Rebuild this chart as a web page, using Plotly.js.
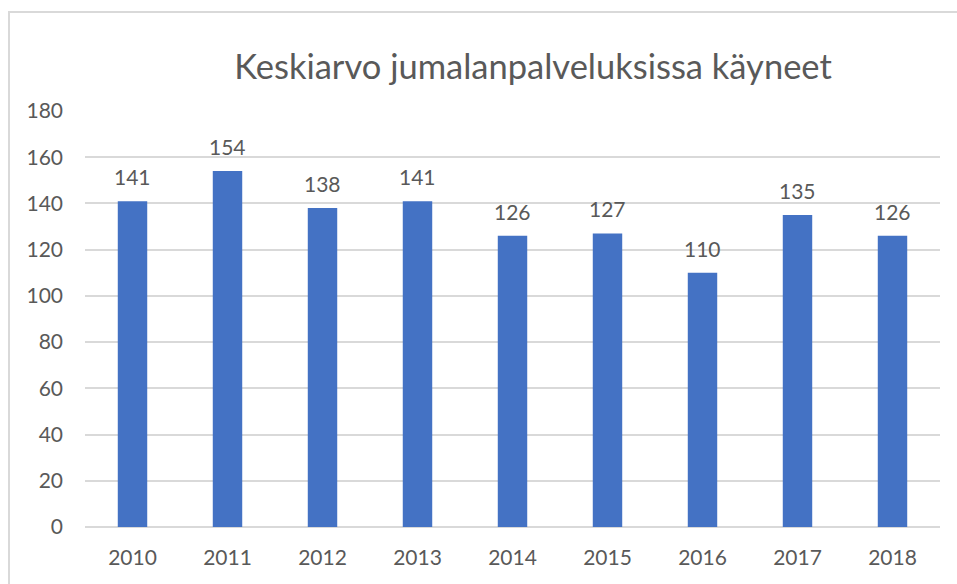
<!DOCTYPE html>
<html>
<head>
<meta charset="utf-8">
<script src="https://cdn.plot.ly/plotly-3.0.1.min.js"></script>
<style>html,body{margin:0;padding:0;background:#fff;}#chart{width:957px;height:584px;}</style>
</head>
<body>
<div id="chart"></div>
<script>
const years = ["2010","2011","2012","2013","2014","2015","2016","2017","2018"];
const values = [141, 154, 138, 141, 126, 127, 110, 135, 126];
const yTicks = [0, 20, 40, 60, 80, 100, 120, 140, 160, 180];
const chartTitle = "Keskiarvo jumalanpalveluksissa käyneet";

const fontFam = "Lato, 'Open Sans', sans-serif";
const textColor = "#595959";

const trace = {
  type: "bar",
  x: years,
  y: values,
  marker: {color: "#4472C4"},
  hoverinfo: "skip"
};

const annotations = years.map((yr, i) => ({
  x: i, y: values[i], xref: "x", yref: "y",
  text: String(values[i]), showarrow: false,
  yanchor: "bottom", yshift: 10,
  font: {family: fontFam, size: 21, color: textColor}
}));

const layout = {
  width: 957, height: 584,
  margin: {l: 85, r: 17, t: 111, b: 57},
  paper_bgcolor: "#fff", plot_bgcolor: "#fff",
  bargap: 0.69,
  showlegend: false,
  title: {text: chartTitle, x: 0.524, xref: "paper", y: 0.885, yref: "container",
          xanchor: "center", yanchor: "middle",
          font: {family: fontFam, size: 34.5, color: textColor}},
  xaxis: {type: "category", showgrid: false, zeroline: false, showline: false,
          ticks: "", ticklabelstandoff: 16,
          tickfont: {family: fontFam, size: 21, color: textColor}},
  yaxis: {range: [0, 180], tickvals: yTicks, ticktext: yTicks.map(String),
          showgrid: true, gridcolor: "#d9d9d9", gridwidth: 2,
          zeroline: true, zerolinecolor: "#d9d9d9", zerolinewidth: 2,
          showline: false, ticks: "", ticklabelstandoff: 21,
          tickfont: {family: fontFam, size: 21, color: textColor}},
  annotations: annotations,
  shapes: [{type: "rect", xref: "paper", yref: "paper",
            x0: -0.0889, x1: 1.3, y0: -0.4, y1: 1.238,
            line: {color: "#d9d9d9", width: 2}, fillcolor: "rgba(0,0,0,0)", layer: "below"}]
};

Plotly.newPlot("chart", [trace], layout, {displayModeBar: false, staticPlot: true});
</script>
</body>
</html>
